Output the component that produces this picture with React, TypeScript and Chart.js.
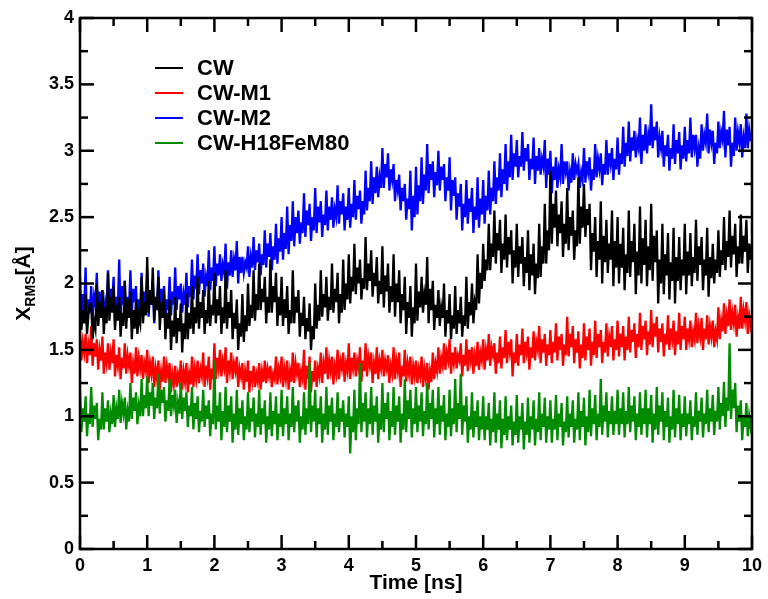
import React, { useEffect, useRef } from "react";
import { Chart, registerables } from "chart.js";

Chart.register(...registerables);

// sampling grid of the traces (samples per ns)
const SAMPLES_PER_NS = 48;

const X_TICK_LABELS = ["0", "1", "2", "3", "4", "5", "6", "7", "8", "9", "10"];
const Y_TICK_LABELS = ["0", "0.5", "1", "1.5", "2", "2.5", "3", "3.5", "4"];

const SERIES_NAMES = ["CW", "CW-M1", "CW-M2", "CW-H18FeM80"];
const SERIES_COLORS = ["#000000", "#ff0000", "#0000ff", "#008b00"];

// X_RMS [Å], one row per ns
const CW = [
  1.88,1.65,1.80,1.70, 1.92,1.62,1.76,1.84, 1.85,1.58,1.72,1.66, 2.00,1.68,1.86,1.74, 1.95,1.62,1.82,1.70, 2.08,1.72,1.90,1.78, 1.98,1.65,1.84,1.72, 1.90,1.60,1.78,1.68, 2.02,1.66,1.88,1.74, 1.94,1.58,1.80,1.66, 1.88,1.62,1.76,1.70, 2.05,1.70,1.86,1.76,
  2.20,1.78,1.95,1.84, 2.12,1.72,1.90,1.80, 2.05,1.65,1.86,1.74, 1.95,1.58,1.78,1.66, 1.88,1.50,1.72,1.60, 1.90,1.55,1.74,1.64, 1.85,1.48,1.70,1.58, 1.92,1.58,1.78,1.66, 1.98,1.62,1.82,1.70, 2.05,1.66,1.86,1.74, 1.95,1.62,1.80,1.70, 2.02,1.68,1.84,1.76,
  2.08,1.70,1.88,1.76, 1.98,1.62,1.82,1.70, 2.10,1.66,1.86,1.74, 1.95,1.58,1.78,1.66, 1.88,1.50,1.70,1.60, 1.92,1.56,1.76,1.64, 2.00,1.68,1.84,1.74, 2.10,1.72,1.92,1.80, 2.15,1.80,1.96,1.86, 2.05,1.70,1.90,1.78, 2.18,1.78,1.98,1.86, 2.08,1.68,1.90,1.76,
  2.05,1.68,1.88,1.74, 1.98,1.62,1.80,1.70, 2.10,1.70,1.90,1.78, 1.95,1.60,1.78,1.68, 1.90,1.58,1.74,1.64, 1.85,1.50,1.68,1.58, 2.00,1.66,1.84,1.72, 2.10,1.75,1.92,1.82, 2.05,1.72,1.90,1.80, 2.15,1.78,1.96,1.86, 2.08,1.70,1.92,1.78, 2.18,1.80,2.00,1.88,
  2.22,1.85,2.05,1.94, 2.30,1.92,2.12,2.00, 2.18,1.88,2.04,1.96, 2.35,1.95,2.15,2.02, 2.25,1.90,2.08,1.98, 2.20,1.85,2.02,1.92, 2.28,1.82,2.06,1.94, 2.15,1.78,1.98,1.86, 2.22,1.75,2.00,1.86, 2.10,1.70,1.92,1.80, 2.05,1.62,1.86,1.74, 1.98,1.60,1.82,1.70,
  2.15,1.72,1.94,1.82, 2.05,1.78,1.92,1.84, 2.20,1.70,1.96,1.80, 2.02,1.65,1.84,1.74, 1.95,1.68,1.82,1.74, 2.00,1.60,1.80,1.70, 1.92,1.58,1.76,1.66, 1.98,1.62,1.80,1.70, 1.90,1.60,1.76,1.68, 2.05,1.66,1.86,1.76, 2.00,1.70,1.86,1.80, 2.22,1.85,2.08,1.96,
  2.30,2.02,2.18,2.10, 2.45,2.10,2.30,2.20, 2.55,2.15,2.38,2.25, 2.48,2.08,2.30,2.18, 2.52,2.12,2.35,2.22, 2.40,2.00,2.25,2.12, 2.45,2.05,2.28,2.15, 2.35,1.98,2.20,2.08, 2.40,1.95,2.22,2.06, 2.30,1.92,2.15,2.04, 2.45,2.05,2.28,2.15, 2.60,2.15,2.40,2.25,
  2.85,2.30,2.60,2.42, 2.70,2.28,2.52,2.38, 2.62,2.20,2.45,2.30, 2.72,2.25,2.50,2.36, 2.55,2.18,2.40,2.28, 2.80,2.30,2.58,2.42, 2.75,2.35,2.56,2.44, 2.60,2.10,2.38,2.24, 2.50,2.05,2.32,2.18, 2.62,2.00,2.36,2.16, 2.48,2.08,2.30,2.18, 2.55,1.98,2.32,2.12,
  2.50,2.00,2.30,2.12, 2.42,1.95,2.22,2.08, 2.55,2.05,2.32,2.16, 2.45,1.92,2.24,2.06, 2.58,2.00,2.34,2.14, 2.48,1.98,2.28,2.10, 2.60,2.02,2.36,2.16, 2.40,1.85,2.18,2.00, 2.45,1.92,2.22,2.06, 2.38,1.88,2.16,2.02, 2.42,1.85,2.20,2.02, 2.35,1.95,2.18,2.06,
  2.45,1.92,2.24,2.06, 2.38,1.98,2.20,2.08, 2.48,2.02,2.28,2.14, 2.35,1.95,2.18,2.06, 2.42,1.90,2.20,2.04, 2.30,2.00,2.18,2.08, 2.40,2.05,2.25,2.14, 2.50,2.10,2.32,2.20, 2.55,2.12,2.36,2.22, 2.45,2.05,2.28,2.15, 2.52,2.15,2.36,2.24, 2.48,2.08,2.30,2.18,
  2.30,
];

const CW_M1 = [
  1.65,1.42,1.56,1.48, 1.62,1.40,1.54,1.46, 1.68,1.38,1.55,1.45, 1.58,1.35,1.50,1.42, 1.60,1.32,1.48,1.40, 1.55,1.35,1.48,1.40, 1.58,1.30,1.46,1.38, 1.52,1.28,1.44,1.36, 1.55,1.32,1.46,1.38, 1.48,1.25,1.40,1.32, 1.52,1.30,1.44,1.36, 1.46,1.28,1.40,1.34,
  1.50,1.25,1.40,1.32, 1.45,1.22,1.36,1.28, 1.42,1.20,1.34,1.26, 1.45,1.25,1.38,1.30, 1.40,1.18,1.32,1.24, 1.38,1.22,1.32,1.26, 1.42,1.20,1.34,1.26, 1.40,1.18,1.32,1.24, 1.45,1.22,1.36,1.28, 1.42,1.25,1.36,1.30, 1.48,1.22,1.38,1.30, 1.45,1.20,1.36,1.28,
  1.55,1.28,1.44,1.36, 1.50,1.30,1.42,1.36, 1.52,1.25,1.42,1.34, 1.48,1.28,1.40,1.34, 1.45,1.22,1.36,1.30, 1.40,1.20,1.34,1.26, 1.42,1.18,1.34,1.26, 1.38,1.22,1.32,1.26, 1.40,1.20,1.34,1.26, 1.42,1.25,1.36,1.30, 1.38,1.22,1.32,1.28, 1.45,1.24,1.36,1.30,
  1.45,1.22,1.36,1.28, 1.42,1.20,1.34,1.26, 1.48,1.25,1.40,1.32, 1.40,1.22,1.34,1.28, 1.50,1.20,1.38,1.28, 1.45,1.18,1.34,1.26, 1.42,1.22,1.36,1.30, 1.48,1.25,1.40,1.32, 1.52,1.28,1.42,1.34, 1.45,1.24,1.38,1.32, 1.50,1.28,1.42,1.36, 1.48,1.26,1.40,1.34,
  1.55,1.28,1.44,1.36, 1.48,1.30,1.42,1.36, 1.52,1.26,1.42,1.34, 1.55,1.30,1.45,1.38, 1.48,1.25,1.40,1.32, 1.52,1.28,1.42,1.36, 1.50,1.30,1.42,1.36, 1.46,1.25,1.38,1.32, 1.52,1.28,1.42,1.34, 1.48,1.22,1.38,1.30, 1.50,1.26,1.40,1.32, 1.45,1.24,1.38,1.30,
  1.42,1.25,1.36,1.30, 1.45,1.22,1.36,1.28, 1.40,1.20,1.34,1.26, 1.48,1.28,1.40,1.34, 1.52,1.32,1.44,1.38, 1.55,1.35,1.48,1.42, 1.58,1.32,1.48,1.40, 1.52,1.36,1.46,1.42, 1.55,1.30,1.46,1.38, 1.58,1.34,1.50,1.42, 1.52,1.32,1.46,1.38, 1.56,1.35,1.48,1.42,
  1.58,1.35,1.50,1.42, 1.62,1.38,1.52,1.46, 1.55,1.32,1.48,1.40, 1.60,1.36,1.52,1.44, 1.65,1.40,1.56,1.48, 1.58,1.30,1.48,1.40, 1.62,1.38,1.54,1.46, 1.66,1.40,1.56,1.48, 1.60,1.35,1.52,1.44, 1.64,1.42,1.56,1.50, 1.68,1.40,1.58,1.48, 1.62,1.38,1.54,1.46,
  1.65,1.40,1.56,1.48, 1.70,1.42,1.60,1.50, 1.62,1.38,1.54,1.46, 1.75,1.45,1.62,1.52, 1.68,1.40,1.58,1.48, 1.64,1.36,1.54,1.44, 1.70,1.42,1.60,1.50, 1.66,1.38,1.56,1.46, 1.72,1.44,1.62,1.52, 1.65,1.40,1.56,1.48, 1.70,1.45,1.60,1.52, 1.68,1.42,1.58,1.50,
  1.72,1.45,1.62,1.52, 1.68,1.42,1.60,1.50, 1.75,1.48,1.65,1.56, 1.70,1.44,1.62,1.52, 1.78,1.50,1.68,1.58, 1.72,1.46,1.64,1.54, 1.80,1.52,1.70,1.60, 1.75,1.48,1.66,1.56, 1.70,1.45,1.62,1.54, 1.76,1.50,1.66,1.58, 1.72,1.46,1.64,1.54, 1.78,1.50,1.68,1.58,
  1.75,1.50,1.66,1.58, 1.72,1.52,1.64,1.58, 1.78,1.55,1.68,1.60, 1.74,1.50,1.66,1.58, 1.76,1.54,1.68,1.60, 1.72,1.52,1.64,1.58, 1.82,1.58,1.72,1.64, 1.85,1.62,1.76,1.68, 1.88,1.65,1.78,1.70, 1.84,1.60,1.74,1.66, 1.90,1.66,1.80,1.72, 1.86,1.62,1.76,1.68,
  1.75,
];

const CW_M2 = [
  2.05,1.72,1.92,1.80, 2.12,1.68,1.88,1.78, 1.98,1.75,1.90,1.82, 2.08,1.70,1.94,1.80, 1.95,1.72,1.86,1.78, 2.10,1.78,1.96,1.86, 2.05,1.70,1.90,1.80, 2.18,1.75,1.98,1.84, 2.02,1.72,1.90,1.80, 2.10,1.78,1.96,1.86, 1.98,1.70,1.88,1.78, 2.08,1.76,1.94,1.84,
  2.08,1.75,1.94,1.84, 2.02,1.70,1.90,1.80, 2.10,1.78,1.96,1.86, 1.98,1.72,1.88,1.80, 2.05,1.76,1.94,1.84, 2.12,1.80,1.98,1.88, 2.00,1.78,1.92,1.84, 2.08,1.82,1.98,1.90, 2.18,1.88,2.06,1.96, 2.22,1.92,2.10,2.00, 2.15,1.90,2.05,1.98, 2.25,1.95,2.12,2.02,
  2.28,1.98,2.15,2.06, 2.22,2.02,2.14,2.08, 2.30,1.96,2.16,2.06, 2.25,2.05,2.18,2.10, 2.32,2.00,2.20,2.08, 2.20,2.08,2.16,2.12, 2.28,2.05,2.20,2.12, 2.35,2.10,2.25,2.16, 2.30,2.06,2.22,2.14, 2.40,2.12,2.30,2.20, 2.38,2.10,2.28,2.18, 2.45,2.15,2.34,2.24,
  2.50,2.18,2.38,2.26, 2.58,2.22,2.44,2.32, 2.62,2.28,2.50,2.38, 2.55,2.30,2.46,2.38, 2.68,2.35,2.55,2.44, 2.60,2.32,2.50,2.40, 2.72,2.38,2.58,2.46, 2.62,2.35,2.52,2.44, 2.70,2.40,2.58,2.48, 2.65,2.42,2.56,2.50, 2.74,2.45,2.62,2.52, 2.68,2.40,2.58,2.48,
  2.72,2.42,2.60,2.50, 2.78,2.48,2.66,2.56, 2.70,2.45,2.62,2.52, 2.85,2.55,2.72,2.62, 2.92,2.60,2.80,2.68, 2.88,2.65,2.80,2.72, 3.02,2.72,2.90,2.80, 2.98,2.70,2.86,2.78, 2.90,2.62,2.78,2.70, 2.82,2.55,2.72,2.62, 2.75,2.48,2.64,2.56, 2.85,2.40,2.66,2.50,
  2.88,2.52,2.74,2.62, 2.95,2.60,2.82,2.70, 3.05,2.68,2.90,2.78, 2.92,2.65,2.84,2.74, 3.00,2.70,2.88,2.78, 2.90,2.62,2.80,2.70, 2.95,2.55,2.78,2.66, 2.80,2.48,2.68,2.58, 2.75,2.40,2.60,2.50, 2.78,2.45,2.64,2.54, 2.72,2.38,2.58,2.48, 2.80,2.42,2.64,2.52,
  2.78,2.45,2.66,2.55, 2.85,2.52,2.72,2.62, 2.92,2.60,2.80,2.70, 2.98,2.65,2.86,2.75, 3.05,2.70,2.92,2.80, 3.12,2.78,2.98,2.88, 3.08,2.80,2.96,2.88, 3.14,2.85,3.02,2.92, 3.05,2.78,2.94,2.86, 3.10,2.75,2.96,2.85, 3.02,2.82,2.94,2.88, 3.08,2.72,2.94,2.82,
  3.00,2.68,2.88,2.78, 2.95,2.72,2.86,2.80, 3.05,2.75,2.92,2.84, 2.92,2.70,2.84,2.76, 2.98,2.78,2.90,2.84, 2.90,2.72,2.84,2.78, 3.02,2.76,2.92,2.84, 2.95,2.70,2.86,2.78, 3.05,2.80,2.94,2.86, 2.98,2.74,2.90,2.82, 3.08,2.82,2.98,2.90, 3.02,2.78,2.94,2.86,
  3.10,2.82,2.98,2.90, 3.18,2.88,3.06,2.96, 3.22,2.92,3.10,3.00, 3.15,2.95,3.08,3.02, 3.25,2.90,3.12,3.00, 3.20,2.98,3.12,3.04, 3.35,3.02,3.18,3.08, 3.22,2.95,3.10,3.02, 3.15,2.88,3.04,2.96, 3.12,2.85,3.02,2.94, 3.20,2.90,3.08,2.98, 3.14,2.86,3.04,2.94,
  3.18,2.92,3.08,2.98, 3.25,2.95,3.12,3.02, 3.12,2.88,3.02,2.94, 3.20,3.00,3.12,3.06, 3.28,2.98,3.16,3.06, 3.15,2.90,3.06,2.98, 3.22,3.02,3.14,3.08, 3.30,2.95,3.16,3.04, 3.18,2.88,3.06,2.96, 3.25,3.00,3.14,3.06, 3.20,2.95,3.10,3.02, 3.28,3.02,3.16,3.08,
  3.08,
];

const CW_H18FEM80 = [
  1.20,0.88,1.06,0.96, 1.15,0.85,1.02,0.94, 1.22,0.92,1.08,0.98, 1.10,0.82,0.98,0.90, 1.18,0.90,1.06,0.96, 1.12,0.88,1.02,0.94, 1.16,0.92,1.06,0.98, 1.20,0.95,1.10,1.02, 1.14,0.90,1.04,0.96, 1.25,0.98,1.14,1.04, 1.18,0.94,1.08,1.00, 1.28,1.00,1.16,1.06,
  1.30,1.00,1.18,1.08, 1.25,0.98,1.14,1.06, 1.32,1.02,1.20,1.10, 1.22,0.96,1.12,1.04, 1.28,1.00,1.16,1.08, 1.20,0.95,1.10,1.02, 1.25,0.98,1.14,1.04, 1.18,0.92,1.08,1.00, 1.22,0.90,1.10,0.98, 1.15,0.88,1.04,0.96, 1.20,0.92,1.08,0.98, 1.12,0.85,1.02,0.94,
  1.42,0.90,1.08,0.96, 1.18,0.82,1.04,0.92, 1.22,0.88,1.08,0.96, 1.15,0.80,1.02,0.90, 1.20,0.86,1.06,0.94, 1.12,0.82,1.00,0.90, 1.18,0.88,1.06,0.96, 1.14,0.84,1.02,0.92, 1.20,0.86,1.06,0.94, 1.12,0.80,1.00,0.90, 1.18,0.85,1.04,0.94, 1.15,0.82,1.02,0.92,
  1.20,0.85,1.06,0.94, 1.15,0.82,1.02,0.92, 1.22,0.88,1.08,0.96, 1.12,0.80,1.00,0.90, 1.18,0.86,1.06,0.94, 1.40,0.88,1.08,0.96, 1.20,0.84,1.06,0.94, 1.15,0.80,1.02,0.90, 1.22,0.86,1.08,0.96, 1.14,0.82,1.02,0.92, 1.18,0.88,1.06,0.96, 1.12,0.84,1.02,0.92,
  1.15,0.72,1.00,0.88, 1.20,0.82,1.06,0.94, 1.40,0.88,1.10,0.96, 1.18,0.84,1.06,0.94, 1.22,0.86,1.08,0.96, 1.15,0.80,1.02,0.90, 1.25,0.88,1.10,0.98, 1.18,0.82,1.04,0.92, 1.22,0.86,1.08,0.96, 1.15,0.80,1.02,0.90, 1.28,0.88,1.12,0.98, 1.20,0.84,1.06,0.94,
  1.22,0.88,1.08,0.96, 1.18,0.85,1.04,0.94, 1.25,0.90,1.10,0.98, 1.20,0.84,1.06,0.94, 1.22,0.86,1.08,0.96, 1.16,0.82,1.02,0.92, 1.20,0.85,1.06,0.94, 1.28,0.88,1.10,0.98, 1.32,0.86,1.08,0.96, 1.15,0.80,1.00,0.90, 1.18,0.84,1.04,0.92, 1.12,0.82,1.00,0.90,
  1.15,0.82,1.00,0.90, 1.10,0.78,0.98,0.88, 1.18,0.80,1.02,0.90, 1.12,0.76,0.98,0.86, 1.15,0.82,1.00,0.90, 1.08,0.78,0.96,0.86, 1.16,0.80,1.00,0.90, 1.10,0.75,0.96,0.86, 1.14,0.80,1.00,0.90, 1.12,0.78,0.98,0.88, 1.18,0.82,1.02,0.92, 1.14,0.80,1.00,0.90,
  1.12,0.80,0.98,0.90, 1.16,0.82,1.02,0.92, 1.10,0.78,0.96,0.88, 1.15,0.84,1.02,0.92, 1.12,0.80,0.98,0.90, 1.18,0.82,1.04,0.92, 1.14,0.78,1.00,0.88, 1.20,0.85,1.06,0.94, 1.16,0.82,1.02,0.92, 1.28,0.86,1.08,0.96, 1.18,0.84,1.04,0.94, 1.15,0.86,1.04,0.94,
  1.20,0.86,1.06,0.94, 1.18,0.84,1.04,0.94, 1.22,0.88,1.08,0.96, 1.15,0.82,1.02,0.92, 1.18,0.86,1.06,0.94, 1.20,0.84,1.06,0.94, 1.16,0.80,1.02,0.90, 1.22,0.86,1.08,0.96, 1.18,0.82,1.04,0.92, 1.14,0.80,1.00,0.90, 1.20,0.84,1.06,0.94, 1.16,0.82,1.02,0.92,
  1.15,0.85,1.02,0.94, 1.12,0.82,1.00,0.92, 1.18,0.86,1.04,0.96, 1.14,0.84,1.02,0.94, 1.20,0.88,1.06,0.96, 1.16,0.86,1.04,0.96, 1.22,0.90,1.10,1.00, 1.26,0.92,1.14,1.04, 1.55,0.98,1.20,1.06, 1.25,0.88,1.08,0.96, 1.12,0.82,1.00,0.92, 1.10,0.85,1.00,0.92,
  1.00,
];

const SERIES_VALUES = [CW, CW_M1, CW_M2, CW_H18FEM80];
// drawing order: CW on top, then H18FeM80, M1, M2 at the bottom
const SERIES_ORDER = [0, 2, 3, 1];

const FONT = "'Liberation Sans', Arial, Helvetica, sans-serif";

function toPoints(values: number[]) {
  return values.map((y, i) => ({ x: i / SAMPLES_PER_NS, y }));
}

const framePlugin = {
  id: "xmgraceFrame",
  afterDatasetsDraw(chart: any) {
    const { ctx, chartArea: a, scales } = chart;
    const xs = scales.x;
    const ys = scales.y;
    ctx.save();
    ctx.strokeStyle = "#000";
    ctx.lineWidth = 2.5;
    ctx.lineCap = "butt";
    const seg = (x1: number, y1: number, x2: number, y2: number) => {
      ctx.beginPath();
      ctx.moveTo(x1, y1);
      ctx.lineTo(x2, y2);
      ctx.stroke();
    };
    const xMajor = X_TICK_LABELS.map(Number);
    const yMajor = Y_TICK_LABELS.map(Number);
    const MAJ = 14;
    const MIN = 8;
    xMajor.forEach((v, i) => {
      const px = xs.getPixelForValue(v);
      seg(px, a.bottom, px, a.bottom - MAJ);
      seg(px, a.top, px, a.top + MAJ);
      if (i < xMajor.length - 1) {
        const pm = xs.getPixelForValue((v + xMajor[i + 1]) / 2);
        seg(pm, a.bottom, pm, a.bottom - MIN);
        seg(pm, a.top, pm, a.top + MIN);
      }
    });
    yMajor.forEach((v, i) => {
      const py = ys.getPixelForValue(v);
      seg(a.left, py, a.left + MAJ, py);
      seg(a.right, py, a.right - MAJ, py);
      if (i < yMajor.length - 1) {
        const pm = ys.getPixelForValue((v + yMajor[i + 1]) / 2);
        seg(a.left, pm, a.left + MIN, pm);
        seg(a.right, pm, a.right - MIN, pm);
      }
    });
    ctx.strokeRect(a.left, a.top, a.right - a.left, a.bottom - a.top);
    ctx.restore();
  },
  afterDraw(chart: any) {
    const { ctx, chartArea: a } = chart;
    ctx.save();
    ctx.fillStyle = "#000";
    // x title
    ctx.font = `bold 21px ${FONT}`;
    ctx.textAlign = "center";
    ctx.textBaseline = "alphabetic";
    ctx.fillText("Time [ns]", (a.left + a.right) / 2, 589);

    // y title with subscript
    const big = `bold 21px ${FONT}`;
    const small = `bold 14px ${FONT}`;
    ctx.font = big;
    const wX = ctx.measureText("X").width;
    const wB = ctx.measureText("[Å]").width;
    ctx.font = small;
    const wS = ctx.measureText("RMS").width;
    const total = wX + wS + wB;
    ctx.translate(30, (a.top + a.bottom) / 2);
    ctx.rotate(-Math.PI / 2);
    ctx.textAlign = "left";
    let cx = -total / 2;
    ctx.font = big;
    ctx.fillText("X", cx, 0);
    cx += wX;
    ctx.font = small;
    ctx.fillText("RMS", cx, 5);
    cx += wS;
    ctx.font = big;
    ctx.fillText("[Å]", cx, 0);
    ctx.restore();

    // legend inside the plot
    ctx.save();
    ctx.font = `bold 22px ${FONT}`;
    ctx.textAlign = "left";
    ctx.textBaseline = "middle";
    chart.data.datasets.forEach((ds: any, i: number) => {
      const y = a.top + 50 + i * 25;
      ctx.strokeStyle = ds.borderColor;
      ctx.lineWidth = 2;
      ctx.beginPath();
      ctx.moveTo(a.left + 75, y);
      ctx.lineTo(a.left + 103, y);
      ctx.stroke();
      ctx.fillStyle = "#000";
      ctx.fillText(ds.label, a.left + 117, y + 1);
    });
    ctx.restore();
  },
};

export default function App() {
  const canvasRef = useRef<HTMLCanvasElement | null>(null);

  useEffect(() => {
    const canvas = canvasRef.current;
    if (!canvas) return;
    const chart = new Chart(canvas, {
      type: "line",
      data: {
        datasets: SERIES_NAMES.map((name, i) => ({
          label: name,
          data: toPoints(SERIES_VALUES[i]),
          borderColor: SERIES_COLORS[i],
          backgroundColor: SERIES_COLORS[i],
          borderWidth: 2.3,
          pointRadius: 0,
          tension: 0,
          fill: false,
          order: SERIES_ORDER[i],
        })),
      },
      options: {
        responsive: true,
        maintainAspectRatio: false,
        animation: false,
        layout: { padding: { left: 8, right: 14, top: 18, bottom: 0 } },
        plugins: {
          legend: { display: false },
          tooltip: { enabled: false },
          title: { display: false },
        },
        scales: {
          x: {
            type: "linear",
            min: 0,
            max: 10,
            grid: { display: false, drawTicks: false },
            border: { display: false },
            ticks: {
              stepSize: 1,
              autoSkip: false,
              maxRotation: 0,
              padding: 6,
              color: "#000",
              font: { family: FONT, size: 18, weight: "bold" },
              callback: (v: any) => X_TICK_LABELS[Math.round(Number(v))] ?? "",
            },
            afterFit: (s: any) => {
              s.height = 50;
            },
          },
          y: {
            type: "linear",
            min: 0,
            max: 4,
            grid: { display: false, drawTicks: false },
            border: { display: false },
            ticks: {
              stepSize: 0.5,
              autoSkip: false,
              padding: 6,
              color: "#000",
              font: { family: FONT, size: 18, weight: "bold" },
              callback: (v: any) => Y_TICK_LABELS[Math.round(Number(v) * 2)] ?? "",
            },
            afterFit: (s: any) => {
              s.width = 72;
            },
          },
        },
      },
      plugins: [framePlugin],
    });
    return () => chart.destroy();
  }, []);

  return (
    <div style={{ position: "fixed", left: 0, top: 0, width: 768, height: 599, background: "#fff" }}>
      <canvas ref={canvasRef} />
    </div>
  );
}
